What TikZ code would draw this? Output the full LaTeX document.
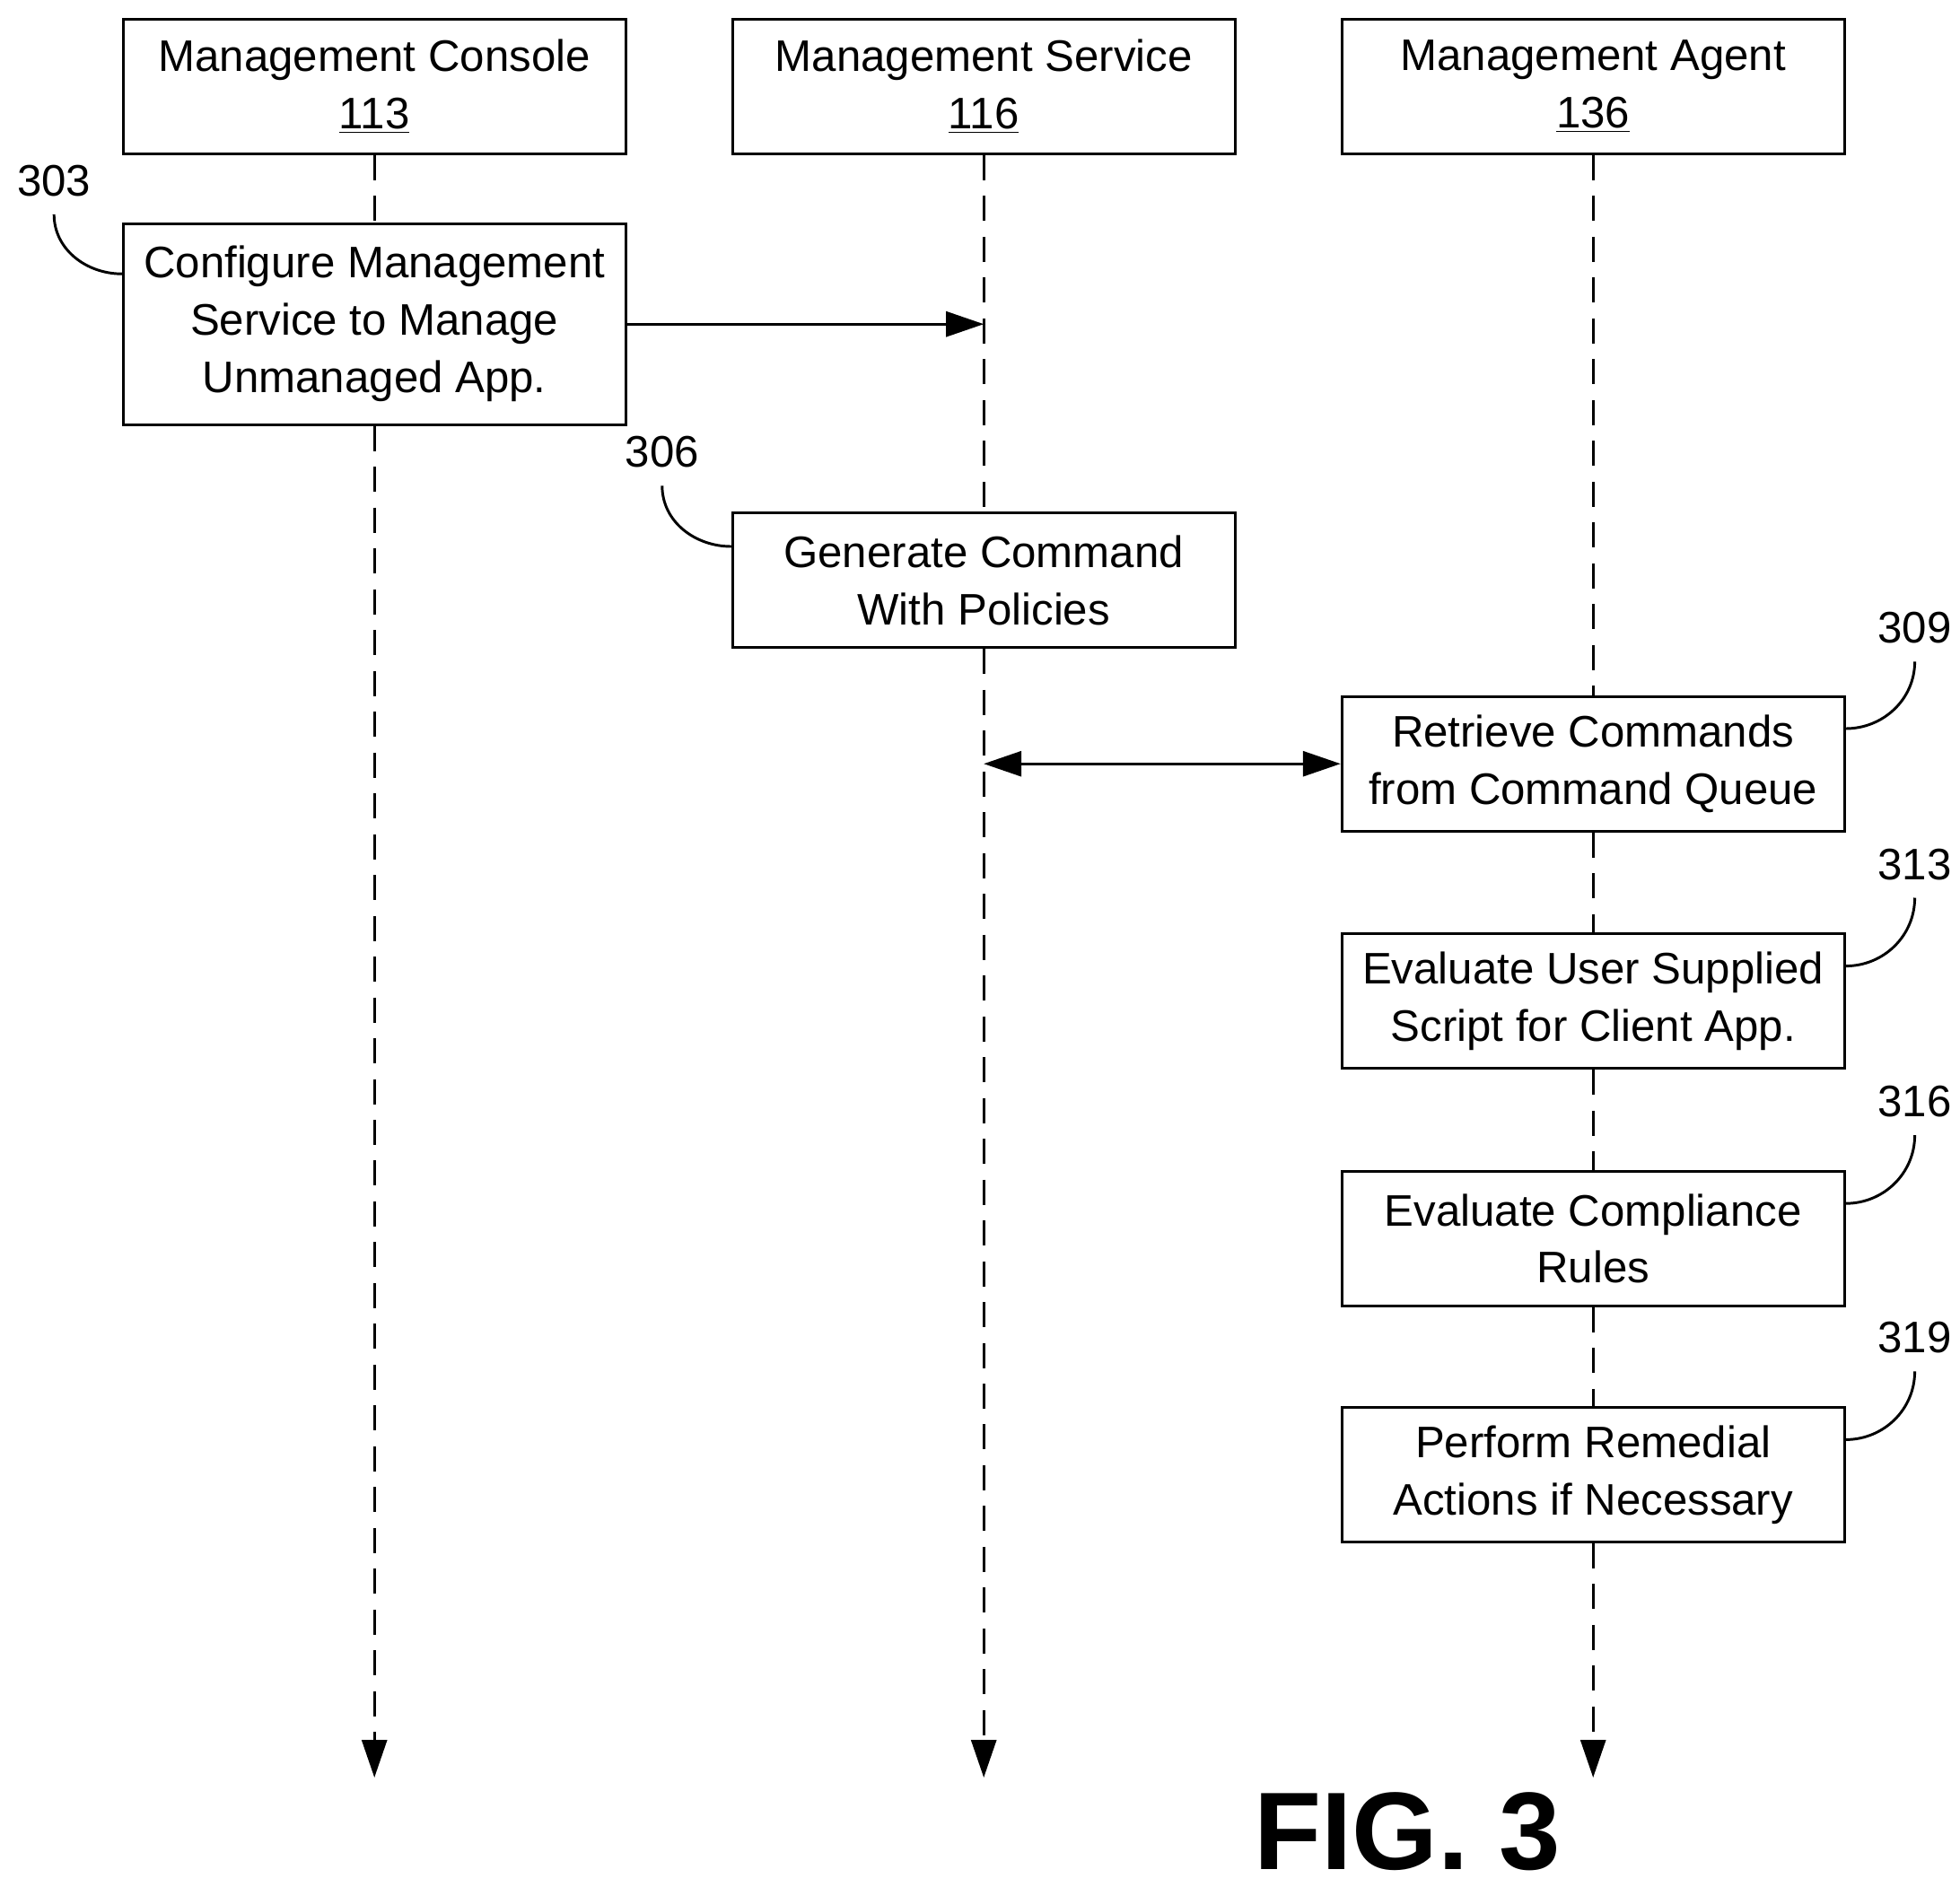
\documentclass[tikz,border=0pt]{standalone}
\usepackage{fontspec}
\setmainfont{Liberation Sans}
\usetikzlibrary{positioning, arrows.meta}
\begin{document}
\begin{tikzpicture}[x=0.02cm, y=-0.02cm,
    every node/.style={font=\fontsize{20}{26}\selectfont},
    actor/.style={rectangle, draw, line width=1.2pt, minimum width=8.0cm, minimum height=2.14cm, align=center, inner sep=2pt},
    task/.style={actor},
    life/.style={line width=1.2pt, dash pattern=on 0.4cm off 0.25cm},
    arrow/.style={line width=1.2pt, -{Triangle[length=0.6cm, width=0.4cm]}},
    ref/.style={line width=1.2pt}
  ]
  \useasboundingbox (0,0) rectangle (1560,1502);

  % Actors
  \node (console) [actor] at (298,69) {Management Console\\\underline{113}};
  \node (service) [actor] at (783,69) {Management Service\\\underline{116}};
  \node (agent) [actor] at (1268,69) {Management Agent\\\underline{136}};

  % Steps
  \node (configure) [task, minimum height=3.2cm] at (298,258) {Configure Management\\Service to Manage\\Unmanaged App.};
  \node (generate) [task] at (783,462) {Generate Command\\With Policies};
  \node (retrieve) [task] at (1268,608) {Retrieve Commands\\from Command Queue};
  \node (script) [task] at (1268,797) {Evaluate User Supplied\\Script for Client App.};
  \node (rules) [task] at (1268,986) {Evaluate Compliance\\Rules};
  \node (remedy) [task] at (1268,1174) {Perform Remedial\\Actions if Necessary};

  % Lifeline ends
  \coordinate (consoleEnd) at (298,1415);
  \coordinate (serviceEnd) at (783,1415);
  \coordinate (agentEnd) at (1268,1415);

  % Lifelines
  \draw [life] (console) -- (configure);
  \draw [life, arrow] (configure) -- (consoleEnd);
  \draw [life] (service) -- (generate);
  \draw [life, arrow] (generate) -- (serviceEnd);
  \draw [life] (agent) -- (retrieve);
  \draw [life] (retrieve) -- (script);
  \draw [life] (script) -- (rules);
  \draw [life] (rules) -- (remedy);
  \draw [life, arrow] (remedy) -- (agentEnd);

  % Messages
  \coordinate (cfgTip) at (783,258);
  \coordinate (qStart) at (783,608);
  \draw [arrow] (configure) -- (cfgTip);
  \draw [arrow, {Triangle[length=0.6cm, width=0.4cm]}-{Triangle[length=0.6cm, width=0.4cm]}] (qStart) -- (retrieve);

  % Reference numbers
  \node (n303) at (43,144) {303};
  \draw [ref] (n303.south) ++(0,8) to[out=270, in=180] (configure.west |- 0,218);
  \node (n306) at (527,360) {306};
  \draw [ref] (n306.south) ++(0,8) to[out=270, in=180] (generate.west |- 0,435);
  \node (n309) at (1524,500) {309};
  \draw [ref] (n309.south) ++(0,8) to[out=270, in=0] (retrieve.east |- 0,580);
  \node (n313) at (1524,688) {313};
  \draw [ref] (n313.south) ++(0,8) to[out=270, in=0] (script.east |- 0,769);
  \node (n316) at (1524,877) {316};
  \draw [ref] (n316.south) ++(0,8) to[out=270, in=0] (rules.east |- 0,958);
  \node (n319) at (1524,1065) {319};
  \draw [ref] (n319.south) ++(0,8) to[out=270, in=0] (remedy.east |- 0,1146);

  \node (fig) [font=\fontsize{50}{54}\selectfont\bfseries] at (1120,1458) {FIG. 3};
\end{tikzpicture}
\end{document}
